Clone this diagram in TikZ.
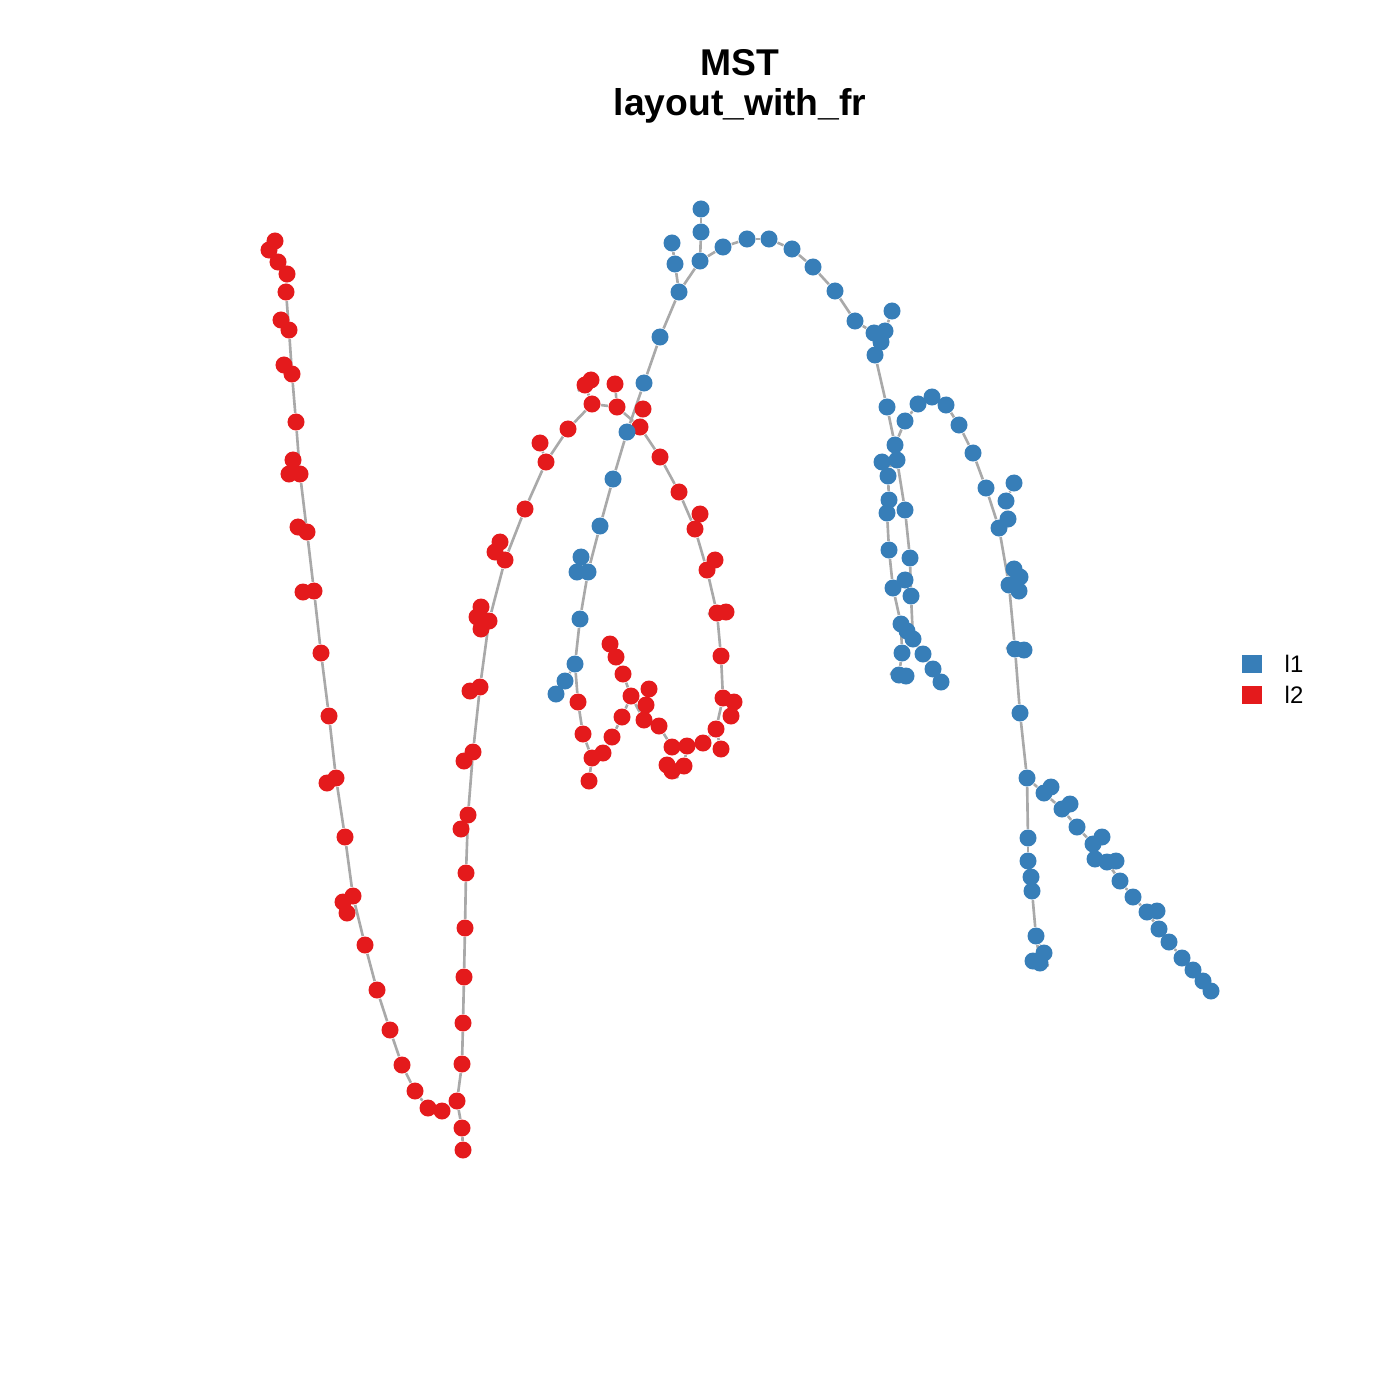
\documentclass[tikz,border=0pt]{standalone}
\usepackage{fontspec}
\setmainfont{Liberation Sans}
\usetikzlibrary{backgrounds}
\definecolor{setblue}{HTML}{377EB8}
\definecolor{setred}{HTML}{E41A1C}
\definecolor{edgegray}{HTML}{A9A9A9}
\tikzset{
  dot/.style={circle,inner sep=0pt,minimum size=0.17cm},
  rdot/.style={dot,fill=setred},
  bdot/.style={dot,fill=setblue},
  mstedge/.style={draw=edgegray,line width=0.75pt},
  keybox/.style={inner sep=0pt,minimum width=0.2cm,minimum height=0.18cm}
}
\begin{document}
\begin{tikzpicture}[x=0.01cm,y=-0.01cm]
\useasboundingbox (0,0) rectangle (1400,1400);
% title
\node[anchor=base,font=\fontsize{10.6}{12}\selectfont\bfseries] (title1) at (740,76) {MST};
\node[anchor=base,font=\fontsize{10.6}{12}\selectfont\bfseries] (title2) at (740,116) {layout\_with\_fr};
% red vertices
\foreach \n/\x/\y in {1/275/241,2/269/250,3/278/262,4/287/274,5/286/292,6/281/320,7/289/330,8/284/365,
  9/292/374,10/296/422,11/293/460,12/289/474,13/300/474,14/298/527,15/307/532,16/303/592,17/314/591,
  18/321/653,19/329/716,20/327/783,21/336/778,22/345/837,23/343/902,24/353/896,25/347/913,26/365/945,
  27/377/990,28/390/1030,29/402/1065,30/415/1091,31/428/1108,32/442/1111,33/457/1101,34/462/1128,
  35/463/1150,36/462/1064,37/463/1023,38/464/977,39/465/928,40/466/873,41/461/829,42/468/815,43/464/761,
  44/473/752,45/470/691,46/480/687,47/481/607,48/477/617,49/489/621,50/481/629,51/505/560,52/495/552,
  53/500/542,54/525/509,55/546/462,56/540/443,57/568/429,58/592/404,59/585/385,60/591/380,61/617/407,
  62/615/384,63/640/427,64/643/409,65/660/457,66/679/492,67/700/514,68/695/529,69/715/560,70/707/570,
  71/717/613,72/726/612,73/721/656,74/723/698,75/734/702,76/731/716,77/716/729,78/721/749,79/703/743,
  80/687/746,81/672/747,82/684/766,83/672/771,84/667/765,85/659/726,86/644/720,87/646/705,88/649/689,
  89/631/696,90/623/674,91/616/657,92/610/644,93/622/717,94/612/737,95/603/753,96/592/758,97/589/781,
  98/583/734,99/578/702}
  \node[rdot] (r\n) at (\x,\y) {};
% blue vertices
\foreach \n/\x/\y in {1/556/694,2/565/681,3/575/664,4/580/619,5/577/572,6/588/572,7/581/557,8/600/526,
  9/613/479,10/627/432,11/644/383,12/660/337,13/679/292,14/675/264,15/672/243,16/700/261,17/701/232,
  18/701/209,19/723/247,20/747/239,21/769/239,22/792/249,23/813/267,24/835/291,25/855/321,26/874/333,
  27/881/342,28/885/331,29/892/311,30/875/355,31/887/407,32/895/445,33/905/421,34/918/404,35/932/397,
  36/946/405,37/959/425,38/973/453,39/986/488,40/999/528,41/1008/519,42/1006/501,43/1014/483,
  44/1014/569,45/1020/577,46/1009/585,47/1019/591,48/1015/649,49/1024/650,50/1020/713,51/1027/778,
  52/1028/838,53/1028/861,54/1031/877,55/1032/891,56/1036/936,57/1040/963,58/1033/961,59/1044/953,
  60/1044/793,61/1051/787,62/1062/809,63/1070/804,64/1077/827,65/1093/844,66/1102/837,67/1095/859,
  68/1107/862,69/1116/861,70/1120/881,71/1133/897,72/1147/912,73/1157/911,74/1159/929,75/1169/942,
  76/1182/958,77/1193/970,78/1203/981,79/1211/991,80/897/460,81/882/462,82/888/476,83/889/500,
  84/887/513,85/905/510,86/889/550,87/910/558,88/893/588,89/905/580,90/911/596,91/901/624,92/907/631,
  93/913/639,94/902/653,95/923/654,96/933/669,97/941/682,98/899/675,99/906/676}
  \node[bdot] (b\n) at (\x,\y) {};
% tree edges
\begin{scope}[on background layer]
\foreach \a/\b in {r1/r2,r2/r3,r3/r4,r4/r5,r5/r7,r6/r7,r7/r9,r8/r9,r9/r10,r10/r13,r11/r13,r11/r12,
  r13/r15,r14/r15,r15/r17,r16/r17,r17/r18,r18/r19,r19/r21,r20/r21,r21/r22,r22/r24,r23/r24,r23/r25,
  r24/r26,r26/r27,r27/r28,r28/r29,r29/r30,r30/r31,r31/r32,r32/r33,r33/r34,r34/r35,r33/r36,r36/r37,
  r37/r38,r38/r39,r39/r40,r40/r42,r41/r42,r42/r44,r43/r44,r44/r46,r45/r46,r46/r49,r47/r49,r48/r49,
  r50/r49,r49/r51,r51/r52,r52/r53,r51/r54,r54/r55,r55/r56,r55/r57,r57/r58,r58/r59,r59/r60,r58/r61,
  r61/r62,r61/r63,r63/r64,r63/r65,r65/r66,r66/r68,r67/r68,r68/r70,r69/r70,r70/r71,r71/r72,r71/r73,
  r73/r74,r74/r75,r75/r76,r74/r77,r77/r78,r77/r79,r79/r80,r80/r81,r80/r82,r82/r83,r83/r84,r81/r85,
  r85/r86,r86/r87,r87/r88,r86/r89,r89/r90,r90/r91,r91/r92,r89/r93,r93/r94,r94/r95,r95/r96,r96/r97,
  r96/r98,r98/r99,r99/b3}
  \draw[mstedge] (\a) -- (\b);
\foreach \a/\b in {b1/b2,b2/b3,b3/b4,b4/b6,b5/b6,b6/b7,b6/b8,b8/b9,b9/b10,b10/b11,b11/b12,b12/b13,
  b13/b14,b14/b15,b13/b16,b16/b17,b17/b18,b16/b19,b19/b20,b20/b21,b21/b22,b22/b23,b23/b24,b24/b25,
  b25/b26,b26/b30,b26/b27,b27/b28,b28/b29,b30/b31,b31/b32,b32/b33,b33/b34,b34/b35,b35/b36,b36/b37,
  b37/b38,b38/b39,b39/b40,b40/b41,b41/b42,b42/b43,b40/b46,b46/b44,b44/b45,b46/b47,b46/b48,b48/b49,
  b48/b50,b50/b51,b51/b52,b52/b53,b53/b54,b54/b55,b55/b56,b56/b57,b57/b58,b56/b59,b51/b60,b60/b61,
  b60/b62,b62/b63,b62/b64,b64/b65,b65/b66,b65/b67,b67/b68,b68/b69,b68/b70,b70/b71,b71/b72,b72/b73,
  b72/b74,b74/b75,b75/b76,b76/b77,b77/b78,b78/b79,b32/b80,b80/b85,b85/b87,b87/b90,b90/b93,b93/b92,
  b93/b95,b95/b96,b96/b97,b32/b82,b82/b81,b82/b83,b83/b84,b84/b86,b86/b88,b88/b89,b88/b91,b91/b94,
  b94/b98,b98/b99}
  \draw[mstedge] (\a) -- (\b);
\end{scope}
% legend
\node[keybox,fill=setblue] (key1) at (1252,664) {};
\node[keybox,fill=setred] (key2) at (1252,695) {};
\node[anchor=west,inner sep=0pt,font=\fontsize{6.8}{8}\selectfont] (lab1) at (1284,664) {l1};
\node[anchor=west,inner sep=0pt,font=\fontsize{6.8}{8}\selectfont] (lab2) at (1284,695) {l2};
\end{tikzpicture}
\end{document}
